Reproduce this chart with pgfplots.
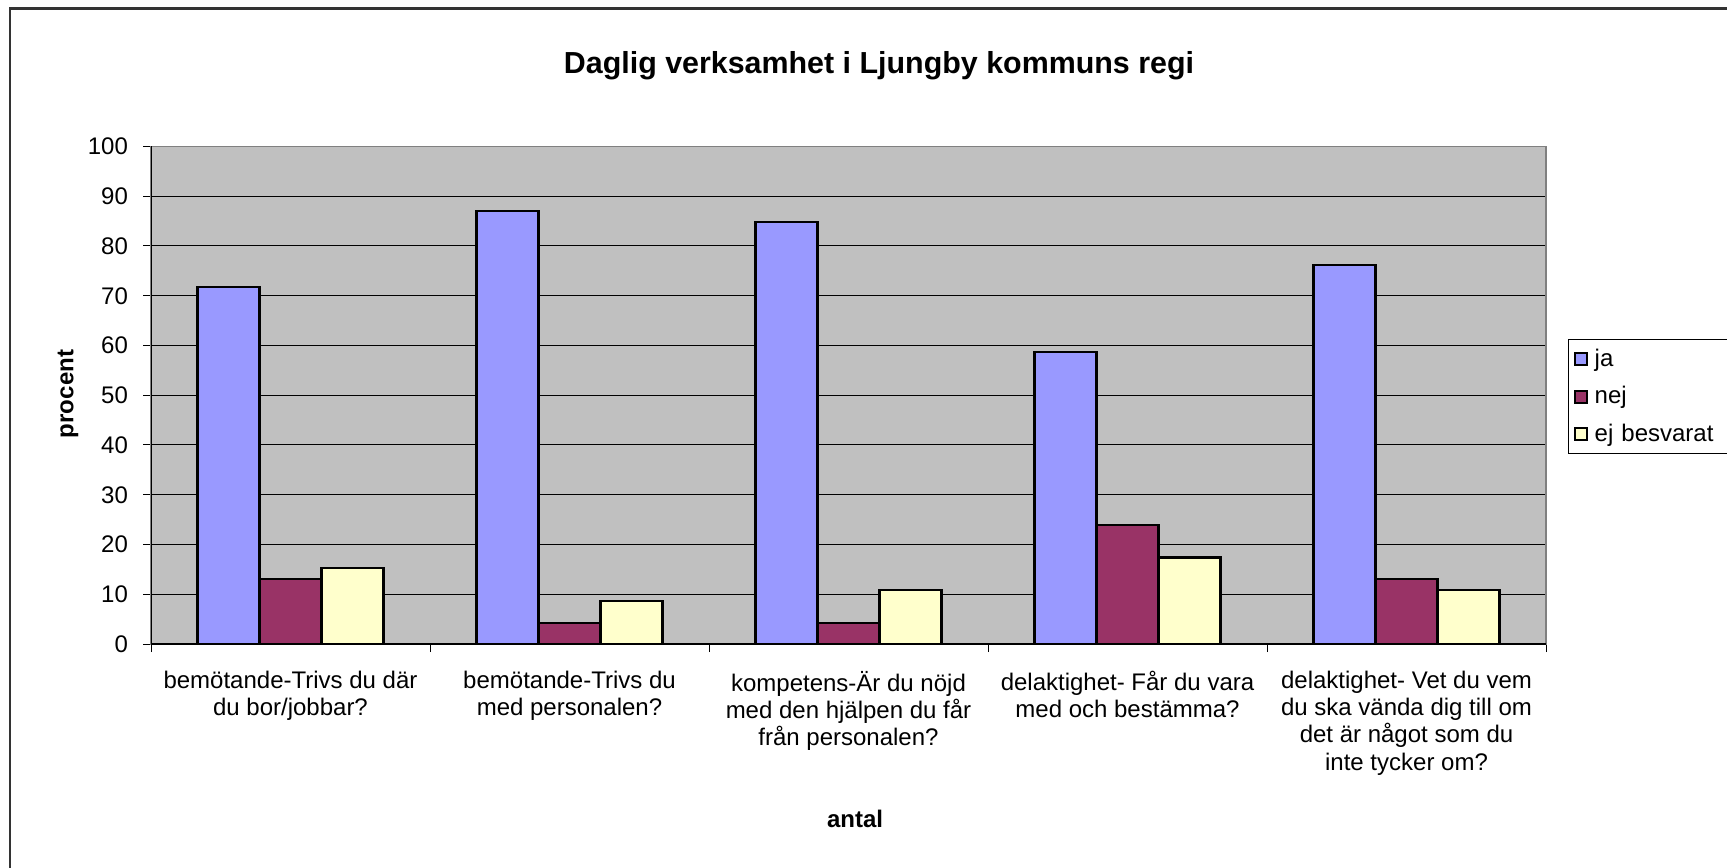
\documentclass[border=0pt]{standalone}
\usepackage{fontspec}
\setmainfont{Liberation Sans}
\usepackage{pgfplots}
\pgfplotsset{compat=1.18}
\definecolor{jablue}{HTML}{9999FF}
\definecolor{nejred}{HTML}{993366}
\definecolor{ejyellow}{HTML}{FFFFCC}
\definecolor{plotgray}{HTML}{C0C0C0}
\newcommand{\lblfont}{\fontsize{12}{13.6}\selectfont}

\begin{document}
\begin{tikzpicture}
\useasboundingbox (0,0) rectangle (863.5pt,433.5pt);
\clip (0,0) rectangle (863.5pt,433.5pt);
% outer chart frame (cut off on the right and bottom)
\draw[line width=1.2pt, black!80] (5pt,-5pt) -- (5pt,429.25pt) -- (880pt,429.25pt);
\begin{axis}[
  at={(75.5pt,111.5pt)}, anchor=south west,
  width=697.5pt, height=248.75pt, scale only axis,
  xmin=-0.5, xmax=4.5, ymin=0, ymax=100,
  axis background/.style={fill=plotgray},
  axis line style={draw=black!50, line width=0.6pt},
  ybar, bar width=0.2222,
  ytick={0,10,...,100},
  ymajorgrids, major grid style={black, line width=0.5pt},
  tick align=outside, major tick length=4pt,
  tick style={black, line width=0.5pt},
  xtick pos=left, ytick pos=left,
  xtick={0,1,2,3,4},
  major x tick style={draw=none},
  minor xtick={-0.5,0.5,1.5,2.5,3.5,4.5},
  minor tick length=4pt,
  xticklabels={
    {bemötande-Trivs du där\\du bor/jobbar?},
    {bemötande-Trivs du\\med personalen?},
    {kompetens-Är du nöjd\\med den hjälpen du får\\från personalen?},
    {delaktighet- Får du vara\\med och bestämma?},
    {delaktighet- Vet du vem\\du ska vända dig till om\\det är något som du\\inte tycker om?}},
  xticklabel style={font=\lblfont, align=center, yshift=-6pt},
  yticklabel style={font=\lblfont, xshift=-4pt},
  /pgf/number format/assume math mode=true,
  legend style={at={(1.0158,0.613)}, anchor=north west, draw=black,
    line width=0.5pt, font=\lblfont, inner xsep=2.5pt, inner ysep=2.7pt,
    row sep=4.6pt, nodes={inner xsep=1.5pt},
    /tikz/every even column/.append style={text width=80pt}},
  legend cell align=left,
  sq legend/.style={legend image code/.code={
    \draw[##1, draw=black, line width=1.1pt] (0pt,-3pt) rectangle (6pt,3pt);
    \path (8pt,0pt);}},
]
\addplot[bar shift=-0.2222, fill=jablue, draw=black, line width=1.1pt, sq legend]
  coordinates {(0,71.7) (1,87.0) (2,84.8) (3,58.7) (4,76.1)};
\addplot[bar shift=0, fill=nejred, draw=black, line width=1.1pt, sq legend]
  coordinates {(0,13.0) (1,4.3) (2,4.3) (3,23.9) (4,13.0)};
\addplot[bar shift=0.2222, fill=ejyellow, draw=black, line width=1.1pt, sq legend]
  coordinates {(0,15.2) (1,8.7) (2,10.9) (3,17.4) (4,10.9)};
\legend{ja,nej,ej besvarat}
\draw[black, line width=0.7pt] (rel axis cs:0,1) -- (rel axis cs:0,0) -- (rel axis cs:1,0);
\end{axis}
\node[font=\fontsize{15.2}{18}\selectfont\bfseries] at (439.5pt,400.5pt) {Daglig verksamhet i Ljungby kommuns regi};
\node[font=\lblfont\bfseries, rotate=90] at (34pt,236.5pt) {procent};
\node[font=\lblfont\bfseries] at (427.5pt,24pt) {antal};
\end{tikzpicture}
\end{document}
